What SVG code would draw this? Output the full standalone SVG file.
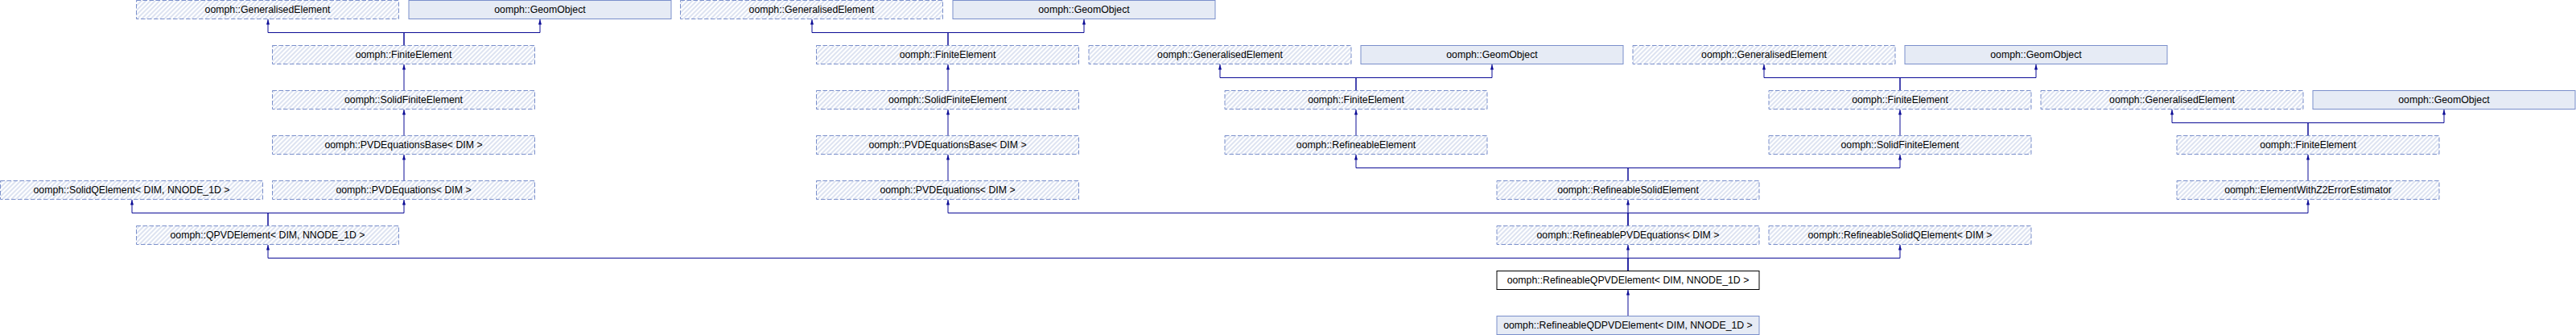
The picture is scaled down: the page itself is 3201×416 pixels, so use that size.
<svg xmlns="http://www.w3.org/2000/svg" width="3201" height="416" viewBox="0 0 3201 416">
<style>
.d{fill:url(#hatch);stroke:#7A8FCB;stroke-width:1;stroke-dasharray:5.5,2.5}
.s{fill:#E6EBF5;stroke:#7A8FCB;stroke-width:1}
.c{fill:#FFFFFF;stroke:#000000;stroke-width:1}
text{font-family:"Liberation Sans",Arial,Helvetica,sans-serif;font-size:12.3px;text-anchor:middle;fill:#000000}
.e path{fill:none;stroke:#0C0C96;stroke-width:1;marker-end:url(#arr)}
</style>
<defs>
<pattern id="hatch" patternUnits="userSpaceOnUse" width="4" height="4" patternTransform="rotate(45)">
<rect x="0" y="0" width="4" height="4" fill="#FFFFFF"/>
<rect x="0" y="0" width="2" height="4" fill="#DDE3F1"/>
</pattern>
<marker id="arr" markerUnits="userSpaceOnUse" viewBox="0 0 6.5 4" markerWidth="6.5" markerHeight="4" refX="6.5" refY="2" orient="auto">
<path d="M0,0 L6.5,2 L0,4 z" fill="#0C0C96"/>
</marker>
</defs>
<rect x="0" y="0" width="3201" height="416" fill="#FFFFFF"/>

<g id="connectors" class="e">
<path d="M502,56.5 V40.5 H333 V24"/>
<path d="M502,56.5 V40.5 H671 V24"/>
<path d="M502,112.5 V80"/>
<path d="M502,168.5 V136"/>
<path d="M502,224.5 V192"/>
<path d="M333,280.5 V264.5 H164 V248"/>
<path d="M333,280.5 V264.5 H502 V248"/>
<path d="M1178,56.5 V40.5 H1009 V24"/>
<path d="M1178,56.5 V40.5 H1347 V24"/>
<path d="M1178,112.5 V80"/>
<path d="M1178,168.5 V136"/>
<path d="M1178,224.5 V192"/>
<path d="M1685,112.5 V96.5 H1516 V80"/>
<path d="M1685,112.5 V96.5 H1854 V80"/>
<path d="M1685,168.5 V136"/>
<path d="M2361,112.5 V96.5 H2192 V80"/>
<path d="M2361,112.5 V96.5 H2530 V80"/>
<path d="M2361,168.5 V136"/>
<path d="M2868,168.5 V152.5 H2699 V136"/>
<path d="M2868,168.5 V152.5 H3037 V136"/>
<path d="M2868,224.5 V192"/>
<path d="M2023,224.5 V208.5 H1685 V192"/>
<path d="M2023,224.5 V208.5 H2361 V192"/>
<path d="M2023,280.5 V264.5 H1178 V248"/>
<path d="M2023,280.5 V248"/>
<path d="M2023,280.5 V264.5 H2868 V248"/>
<path d="M2023,336.5 V320.5 H333 V304"/>
<path d="M2023,336.5 V304"/>
<path d="M2023,336.5 V320.5 H2361 V304"/>
<path d="M2023,392.5 V360"/>
</g>

<g id="ge_a"><rect class="d" x="169.5" y="0.5" width="326" height="23"/><text x="332.5" y="15.5">oomph::GeneralisedElement</text></g>
<g id="go_a"><rect class="s" x="508" y="0.5" width="326" height="23"/><text x="671" y="15.5">oomph::GeomObject</text></g>
<g id="ge_b"><rect class="d" x="845.5" y="0.5" width="326" height="23"/><text x="1008.5" y="15.5">oomph::GeneralisedElement</text></g>
<g id="go_b"><rect class="s" x="1184" y="0.5" width="326" height="23"/><text x="1347" y="15.5">oomph::GeomObject</text></g>

<g id="fe_a"><rect class="d" x="338.5" y="56.5" width="326" height="23"/><text x="501.5" y="71.5">oomph::FiniteElement</text></g>
<g id="fe_b"><rect class="d" x="1014.5" y="56.5" width="326" height="23"/><text x="1177.5" y="71.5">oomph::FiniteElement</text></g>
<g id="ge_c"><rect class="d" x="1353" y="56.5" width="326" height="23"/><text x="1516" y="71.5">oomph::GeneralisedElement</text></g>
<g id="go_c"><rect class="s" x="1691" y="56.5" width="326" height="23"/><text x="1854" y="71.5">oomph::GeomObject</text></g>
<g id="ge_d"><rect class="d" x="2029" y="56.5" width="326" height="23"/><text x="2192" y="71.5">oomph::GeneralisedElement</text></g>
<g id="go_d"><rect class="s" x="2367" y="56.5" width="326" height="23"/><text x="2530" y="71.5">oomph::GeomObject</text></g>

<g id="sfe_a"><rect class="d" x="338.5" y="112.5" width="326" height="23"/><text x="501.5" y="127.5">oomph::SolidFiniteElement</text></g>
<g id="sfe_b"><rect class="d" x="1014.5" y="112.5" width="326" height="23"/><text x="1177.5" y="127.5">oomph::SolidFiniteElement</text></g>
<g id="fe_c"><rect class="d" x="1522" y="112.5" width="326" height="23"/><text x="1685" y="127.5">oomph::FiniteElement</text></g>
<g id="fe_d"><rect class="d" x="2198" y="112.5" width="326" height="23"/><text x="2361" y="127.5">oomph::FiniteElement</text></g>
<g id="ge_e"><rect class="d" x="2536" y="112.5" width="326" height="23"/><text x="2699" y="127.5">oomph::GeneralisedElement</text></g>
<g id="go_e"><rect class="s" x="2874" y="112.5" width="326" height="23"/><text x="3037" y="127.5">oomph::GeomObject</text></g>

<g id="pvdb_a"><rect class="d" x="338.5" y="168.5" width="326" height="23"/><text x="501.5" y="183.5">oomph::PVDEquationsBase&lt; DIM &gt;</text></g>
<g id="pvdb_b"><rect class="d" x="1014.5" y="168.5" width="326" height="23"/><text x="1177.5" y="183.5">oomph::PVDEquationsBase&lt; DIM &gt;</text></g>
<g id="re"><rect class="d" x="1522" y="168.5" width="326" height="23"/><text x="1685" y="183.5">oomph::RefineableElement</text></g>
<g id="sfe_c"><rect class="d" x="2198" y="168.5" width="326" height="23"/><text x="2361" y="183.5">oomph::SolidFiniteElement</text></g>
<g id="fe_e"><rect class="d" x="2705" y="168.5" width="326" height="23"/><text x="2868" y="183.5">oomph::FiniteElement</text></g>

<g id="sqe"><rect class="d" x="0.5" y="224.5" width="326" height="23"/><text x="163.5" y="239.5">oomph::SolidQElement&lt; DIM, NNODE_1D &gt;</text></g>
<g id="pvde_a"><rect class="d" x="338.5" y="224.5" width="326" height="23"/><text x="501.5" y="239.5">oomph::PVDEquations&lt; DIM &gt;</text></g>
<g id="pvde_b"><rect class="d" x="1014.5" y="224.5" width="326" height="23"/><text x="1177.5" y="239.5">oomph::PVDEquations&lt; DIM &gt;</text></g>
<g id="rse"><rect class="d" x="1860" y="224.5" width="326" height="23"/><text x="2023" y="239.5">oomph::RefineableSolidElement</text></g>
<g id="z2"><rect class="d" x="2705" y="224.5" width="326" height="23"/><text x="2868" y="239.5">oomph::ElementWithZ2ErrorEstimator</text></g>

<g id="qpvd"><rect class="d" x="169.5" y="280.5" width="326" height="23"/><text x="332.5" y="295.5">oomph::QPVDElement&lt; DIM, NNODE_1D &gt;</text></g>
<g id="rpvde"><rect class="d" x="1860" y="280.5" width="326" height="23"/><text x="2023" y="295.5">oomph::RefineablePVDEquations&lt; DIM &gt;</text></g>
<g id="rsqe"><rect class="d" x="2198" y="280.5" width="326" height="23"/><text x="2361" y="295.5">oomph::RefineableSolidQElement&lt; DIM &gt;</text></g>

<g id="rqpvd"><rect class="c" x="1860" y="336.5" width="326" height="23"/><text x="2023" y="351.5">oomph::RefineableQPVDElement&lt; DIM, NNODE_1D &gt;</text></g>
<g id="rqdpvd"><rect class="s" x="1860" y="392.5" width="326" height="23"/><text x="2023" y="407.5">oomph::RefineableQDPVDElement&lt; DIM, NNODE_1D &gt;</text></g>
</svg>
